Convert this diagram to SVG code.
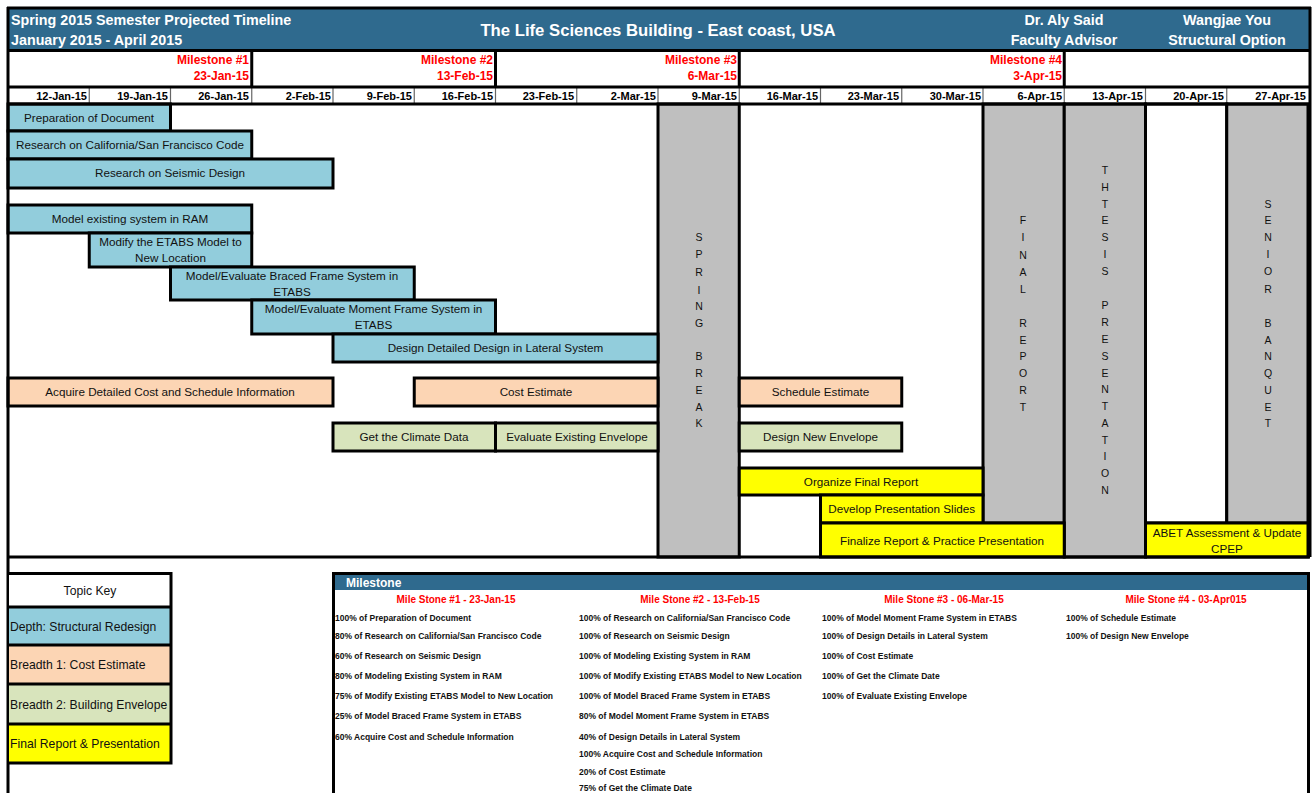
<svg xmlns="http://www.w3.org/2000/svg" width="1314" height="793" viewBox="0 0 1314 793">
<style>
text{font-family:"Liberation Sans",Arial,sans-serif;}
.hd{fill:#fff;font-weight:bold;font-size:14.3px;}
.ms{fill:#f00;font-weight:bold;font-size:12px;text-anchor:end;}
.dt{fill:#000;font-weight:bold;font-size:11px;text-anchor:end;}
.bar{stroke:#000;stroke-width:3;}
.blue{fill:#92CDDC;}
.peach{fill:#FCD5B4;}
.green{fill:#D8E4BC;}
.yel{fill:#FFFF00;}
.gray{fill:#BFBFBF;stroke:#000;stroke-width:3;}
.bt{font-size:11.7px;text-anchor:middle;fill:#111;}
.vt{font-size:10.5px;text-anchor:middle;fill:#111;}
.ln{stroke:#000;stroke-width:3;fill:none;}
.tk{font-size:12.2px;fill:#111;}
.mh{fill:#f00;font-weight:bold;font-size:10px;text-anchor:middle;}
.mi{fill:#111;font-weight:bold;font-size:8.5px;}
</style>
<rect width="1314" height="793" fill="#fff"/>
<g id="header">
<rect x="8" y="8" width="1302" height="42" fill="#2F6A8E"/>
<text class="hd" x="11" y="25">Spring 2015 Semester Projected Timeline</text>
<text class="hd" x="11" y="45">January 2015 - April 2015</text>
<text class="hd" x="658" y="36" text-anchor="middle" style="font-size:16.7px">The Life Sciences Building - East coast, USA</text>
<text class="hd" x="1064" y="25" text-anchor="middle">Dr. Aly Said</text>
<text class="hd" x="1064" y="45" text-anchor="middle">Faculty Advisor</text>
<text class="hd" x="1227" y="25" text-anchor="middle">Wangjae You</text>
<text class="hd" x="1227" y="45" text-anchor="middle">Structural Option</text>
</g>
<g id="milestones">
<text class="ms" x="249" y="64">Milestone #1</text>
<text class="ms" x="249" y="80">23-Jan-15</text>
<text class="ms" x="493" y="64">Milestone #2</text>
<text class="ms" x="493" y="80">13-Feb-15</text>
<text class="ms" x="737" y="64">Milestone #3</text>
<text class="ms" x="737" y="80">6-Mar-15</text>
<text class="ms" x="1062" y="64">Milestone #4</text>
<text class="ms" x="1062" y="80">3-Apr-15</text>
<path class="ln" d="M251.75 51V87M495.5 51V87M739.25 51V87M1064.25 51V87"/>
</g>
<g id="dates">
<path d="M89.25 88V103M170.5 88V103M251.75 88V103M333 88V103M414.25 88V103M495.5 88V103M576.75 88V103M658 88V103M739.25 88V103M820.5 88V103M901.75 88V103M983 88V103M1064.25 88V103M1145.5 88V103M1226.75 88V103" stroke="#666" stroke-width="1.2"/>
<text class="dt" x="87" y="100">12-Jan-15</text>
<text class="dt" x="168" y="100">19-Jan-15</text>
<text class="dt" x="249" y="100">26-Jan-15</text>
<text class="dt" x="331" y="100">2-Feb-15</text>
<text class="dt" x="412" y="100">9-Feb-15</text>
<text class="dt" x="493" y="100">16-Feb-15</text>
<text class="dt" x="574" y="100">23-Feb-15</text>
<text class="dt" x="656" y="100">2-Mar-15</text>
<text class="dt" x="737" y="100">9-Mar-15</text>
<text class="dt" x="818" y="100">16-Mar-15</text>
<text class="dt" x="899" y="100">23-Mar-15</text>
<text class="dt" x="981" y="100">30-Mar-15</text>
<text class="dt" x="1062" y="100">6-Apr-15</text>
<text class="dt" x="1143" y="100">13-Apr-15</text>
<text class="dt" x="1224" y="100">20-Apr-15</text>
<text class="dt" x="1306" y="100">27-Apr-15</text>
</g>
<g id="spring-break">
<rect class="gray" x="658" y="104" width="81.25" height="453"/>
<text class="vt" x="699" y="241">S</text><text class="vt" x="699" y="258">P</text><text class="vt" x="699" y="276">R</text><text class="vt" x="699" y="294">I</text><text class="vt" x="699" y="310">N</text><text class="vt" x="699" y="327">G</text>
<text class="vt" x="699" y="360">B</text><text class="vt" x="699" y="377">R</text><text class="vt" x="699" y="394">E</text><text class="vt" x="699" y="411">A</text><text class="vt" x="699" y="427">K</text>
</g>
<g id="final-report">
<rect class="gray" x="983" y="104" width="81.25" height="419"/>
<text class="vt" x="1023" y="224">F</text><text class="vt" x="1023" y="241">I</text><text class="vt" x="1023" y="259">N</text><text class="vt" x="1023" y="276">A</text><text class="vt" x="1023" y="293">L</text>
<text class="vt" x="1023" y="327">R</text><text class="vt" x="1023" y="344">E</text><text class="vt" x="1023" y="360">P</text><text class="vt" x="1023" y="377">O</text><text class="vt" x="1023" y="394">R</text><text class="vt" x="1023" y="411">T</text>
</g>
<g id="thesis-presentation">
<rect class="gray" x="1064.25" y="104" width="81.25" height="453"/>
<text class="vt" x="1105" y="174">T</text><text class="vt" x="1105" y="191">H</text><text class="vt" x="1105" y="208">T</text><text class="vt" x="1105" y="224">E</text><text class="vt" x="1105" y="241">S</text><text class="vt" x="1105" y="258">I</text><text class="vt" x="1105" y="275">S</text>
<text class="vt" x="1105" y="309">P</text><text class="vt" x="1105" y="326">R</text><text class="vt" x="1105" y="343">E</text><text class="vt" x="1105" y="360">S</text><text class="vt" x="1105" y="377">E</text><text class="vt" x="1105" y="393">N</text><text class="vt" x="1105" y="410">T</text><text class="vt" x="1105" y="427">A</text><text class="vt" x="1105" y="444">T</text><text class="vt" x="1105" y="460">I</text><text class="vt" x="1105" y="477">O</text><text class="vt" x="1105" y="494">N</text>
</g>
<g id="senior-banquet">
<rect x="1145.5" y="104" width="81.25" height="419" fill="#fff" stroke="#000" stroke-width="3"/>
<rect class="gray" x="1226.75" y="104" width="81.25" height="419"/>
<text class="vt" x="1268" y="208">S</text><text class="vt" x="1268" y="224">E</text><text class="vt" x="1268" y="241">N</text><text class="vt" x="1268" y="258">I</text><text class="vt" x="1268" y="275">O</text><text class="vt" x="1268" y="293">R</text>
<text class="vt" x="1268" y="327">B</text><text class="vt" x="1268" y="344">A</text><text class="vt" x="1268" y="360">N</text><text class="vt" x="1268" y="377">Q</text><text class="vt" x="1268" y="394">U</text><text class="vt" x="1268" y="411">E</text><text class="vt" x="1268" y="427">T</text>
</g>
<g id="depth-tasks">
<rect class="bar blue" x="8" y="104" width="162.5" height="27"/>
<text class="bt" x="89" y="122">Preparation of Document</text>
<rect class="bar blue" x="8" y="131" width="243.75" height="28"/>
<text class="bt" x="130" y="149">Research on California/San Francisco Code</text>
<rect class="bar blue" x="8" y="159" width="325" height="29"/>
<text class="bt" x="170" y="177">Research on Seismic Design</text>
<rect class="bar blue" x="8" y="205" width="243.75" height="28"/>
<text class="bt" x="130" y="223">Model existing system in RAM</text>
<rect class="bar blue" x="89.25" y="233" width="162.5" height="34"/>
<text class="bt" x="170.5" y="246">Modify the ETABS Model to</text>
<text class="bt" x="170.5" y="262">New Location</text>
<rect class="bar blue" x="170.5" y="267" width="243.75" height="33"/>
<text class="bt" x="292" y="280">Model/Evaluate Braced Frame System in</text>
<text class="bt" x="292" y="296">ETABS</text>
<rect class="bar blue" x="251.75" y="300" width="243.75" height="34"/>
<text class="bt" x="373.5" y="313">Model/Evaluate Moment Frame System in</text>
<text class="bt" x="373.5" y="329">ETABS</text>
<rect class="bar blue" x="333" y="334" width="325" height="28"/>
<text class="bt" x="495.5" y="352">Design Detailed Design in Lateral System</text>
</g>
<g id="cost-tasks">
<rect class="bar peach" x="8" y="378" width="325" height="28"/>
<text class="bt" x="170" y="396">Acquire Detailed Cost and Schedule Information</text>
<rect class="bar peach" x="414.25" y="378" width="243.75" height="28"/>
<text class="bt" x="536" y="396">Cost Estimate</text>
<rect class="bar peach" x="739.25" y="378" width="162.5" height="28"/>
<text class="bt" x="820.5" y="396">Schedule Estimate</text>
</g>
<g id="envelope-tasks">
<rect class="bar green" x="333" y="423" width="162.5" height="28"/>
<text class="bt" x="414" y="441">Get the Climate Data</text>
<rect class="bar green" x="495.5" y="423" width="162.5" height="28"/>
<text class="bt" x="577" y="441">Evaluate Existing Envelope</text>
<rect class="bar green" x="739.25" y="423" width="162.5" height="28"/>
<text class="bt" x="820.5" y="441">Design New Envelope</text>
</g>
<g id="report-tasks">
<rect class="bar yel" x="739.25" y="468" width="243.75" height="27"/>
<text class="bt" x="861" y="486">Organize Final Report</text>
<rect class="bar yel" x="820.5" y="495" width="162.5" height="28"/>
<text class="bt" x="901.75" y="513">Develop Presentation Slides</text>
<rect class="bar yel" x="820.5" y="523" width="243.75" height="34"/>
<text class="bt" x="942" y="545">Finalize Report &amp; Practice Presentation</text>
<rect class="bar yel" x="1145.5" y="523" width="162.5" height="34"/>
<text class="bt" x="1227" y="537">ABET Assessment &amp; Update</text>
<text class="bt" x="1227" y="553">CPEP</text>
</g>
<g id="frame">
<path class="ln" d="M7 8H1311M8 7V793M1310 7V557M8 50.5H1310M8 87H1310M8 104H1310M8 557H1310"/>
</g>
<g id="topic-key">
<rect x="9" y="574" width="161" height="33" fill="#fff"/>
<rect x="9" y="607" width="161" height="38" class="blue"/>
<rect x="9" y="645" width="161" height="39" class="peach"/>
<rect x="9" y="684" width="161" height="40" class="green"/>
<rect x="9" y="724" width="161" height="39" class="yel"/>
<path class="ln" d="M8 573.5H171V763H8M8 607H171M8 645H171M8 684H171M8 724H171"/>
<text class="tk" x="90" y="595" text-anchor="middle">Topic Key</text>
<text class="tk" x="10" y="631">Depth: Structural Redesign</text>
<text class="tk" x="10" y="669">Breadth 1: Cost Estimate</text>
<text class="tk" x="10" y="709">Breadth 2: Building Envelope</text>
<text class="tk" x="10" y="748">Final Report &amp; Presentation</text>
</g>
<g id="milestone-table">
<rect x="334" y="575" width="973" height="15" fill="#2F6A8E"/>
<path class="ln" d="M333.5 795V573.5H1308.5V795"/>
<text x="346" y="587" fill="#fff" font-weight="bold" font-size="12">Milestone</text>
<text class="mh" x="456" y="603">Mile Stone #1 - 23-Jan-15</text>
<text class="mh" x="700" y="603">Mile Stone #2 - 13-Feb-15</text>
<text class="mh" x="944" y="603">Mile Stone #3 - 06-Mar-15</text>
<text class="mh" x="1186" y="603">Mile Stone #4 - 03-Apr015</text>
<text class="mi" x="335" y="621">100% of Preparation of Document</text>
<text class="mi" x="335" y="639">80% of Research on California/San Francisco Code</text>
<text class="mi" x="335" y="659">60% of Research on Seismic Design</text>
<text class="mi" x="335" y="679">80% of Modeling Existing System in RAM</text>
<text class="mi" x="335" y="699">75% of Modify Existing ETABS Model to New Location</text>
<text class="mi" x="335" y="719">25% of Model Braced Frame System in ETABS</text>
<text class="mi" x="335" y="740">60% Acquire Cost and Schedule Information</text>
<text class="mi" x="579" y="621">100% of Research on California/San Francisco Code</text>
<text class="mi" x="579" y="639">100% of Research on Seismic Design</text>
<text class="mi" x="579" y="659">100% of Modeling Existing System in RAM</text>
<text class="mi" x="579" y="679">100% of Modify Existing ETABS Model to New Location</text>
<text class="mi" x="579" y="699">100% of Model Braced Frame System in ETABS</text>
<text class="mi" x="579" y="719">80% of Model Moment Frame System in ETABS</text>
<text class="mi" x="579" y="740">40% of Design Details in Lateral System</text>
<text class="mi" x="579" y="757">100% Acquire Cost and Schedule Information</text>
<text class="mi" x="579" y="775">20% of Cost Estimate</text>
<text class="mi" x="579" y="791">75% of Get the Climate Date</text>
<text class="mi" x="822" y="621">100% of Model Moment Frame System in ETABS</text>
<text class="mi" x="822" y="639">100% of Design Details in Lateral System</text>
<text class="mi" x="822" y="659">100% of Cost Estimate</text>
<text class="mi" x="822" y="679">100% of Get the Climate Date</text>
<text class="mi" x="822" y="699">100% of Evaluate Existing Envelope</text>
<text class="mi" x="1066" y="621">100% of Schedule Estimate</text>
<text class="mi" x="1066" y="639">100% of Design New Envelope</text>
</g>
</svg>
